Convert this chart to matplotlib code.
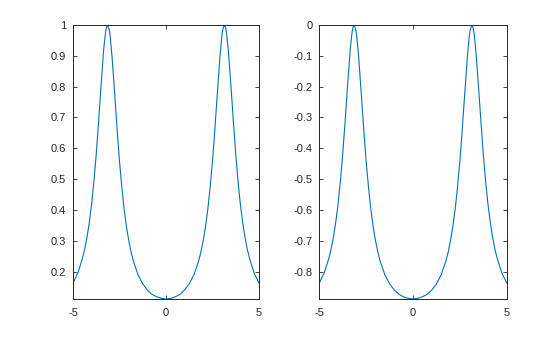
import matplotlib

matplotlib.use("Agg")
import matplotlib.pyplot as plt  # noqa: E402
from matplotlib.ticker import FuncFormatter  # noqa: E402

plt.rcParams["font.family"] = ["Liberation Sans", "DejaVu Sans"]
plt.rcParams["axes.unicode_minus"] = False

LINE = "#0072BD"

# sample positions (denser near the peaks)
x_vals = [
    -5.0, -4.75, -4.5, -4.375, -4.25, -4.125, -4.0, -3.875, -3.75, -3.625,
    -3.5, -3.35, -3.25, -3.2, -3.14, -3.05, -3.0, -2.9, -2.75, -2.625,
    -2.5, -2.375, -2.25, -2.125, -2.0, -1.875, -1.75, -1.5, -1.25, -1.0,
    -0.75, -0.5, -0.25, 0.0, 0.25, 0.5, 0.75, 1.0, 1.25, 1.5,
    1.75, 1.875, 2.0, 2.125, 2.25, 2.375, 2.5, 2.625, 2.75, 2.9,
    3.0, 3.05, 3.14, 3.2, 3.25, 3.35, 3.5, 3.625, 3.75, 3.875,
    4.0, 4.125, 4.25, 4.375, 4.5, 4.75, 5.0,
]

# left panel
y_left = [
    0.163, 0.194, 0.241, 0.272, 0.311, 0.359, 0.419, 0.493, 0.582, 0.686,
    0.797, 0.921, 0.977, 0.993, 1.000, 0.984, 0.962, 0.896, 0.768, 0.658,
    0.557, 0.474, 0.402, 0.345, 0.300, 0.263, 0.233, 0.189, 0.160, 0.140,
    0.126, 0.118, 0.113, 0.111, 0.113, 0.118, 0.126, 0.140, 0.160, 0.189,
    0.233, 0.263, 0.300, 0.345, 0.402, 0.474, 0.557, 0.658, 0.768, 0.896,
    0.962, 0.984, 1.000, 0.993, 0.977, 0.921, 0.797, 0.686, 0.582, 0.493,
    0.419, 0.359, 0.311, 0.272, 0.241, 0.194, 0.163,
]

# right panel
y_right = [
    -0.837, -0.806, -0.759, -0.728, -0.689, -0.641, -0.581, -0.507, -0.418, -0.314,
    -0.203, -0.079, -0.023, -0.007, 0.000, -0.016, -0.038, -0.104, -0.232, -0.342,
    -0.443, -0.526, -0.598, -0.655, -0.700, -0.737, -0.767, -0.811, -0.840, -0.860,
    -0.874, -0.882, -0.887, -0.889, -0.887, -0.882, -0.874, -0.860, -0.840, -0.811,
    -0.767, -0.737, -0.700, -0.655, -0.598, -0.526, -0.443, -0.342, -0.232, -0.104,
    -0.038, -0.016, 0.000, -0.007, -0.023, -0.079, -0.203, -0.314, -0.418, -0.507,
    -0.581, -0.641, -0.689, -0.728, -0.759, -0.806, -0.837,
]

x_ticks = [-5, 0, 5]
y_ticks_left = [0.2, 0.3, 0.4, 0.5, 0.6, 0.7, 0.8, 0.9, 1.0]
y_ticks_right = [-0.8, -0.7, -0.6, -0.5, -0.4, -0.3, -0.2, -0.1, 0.0]


def _style(ax, yticks, ylim):
    ax.set_xlim(-5, 5)
    ax.set_ylim(*ylim)
    ax.set_xticks(x_ticks)
    ax.set_yticks(yticks)
    fmt = FuncFormatter(lambda v, _: f"{v:g}" if abs(v) > 1e-9 else "0")
    ax.xaxis.set_major_formatter(fmt)
    ax.yaxis.set_major_formatter(fmt)
    ax.tick_params(direction="in", top=True, right=True, length=3, width=0.6,
                   labelsize=8, color="#262626", labelcolor="#262626")
    ax.tick_params(axis="x", pad=6.2)
    ax.tick_params(axis="y", pad=4.9)
    for s in ax.spines.values():
        s.set_linewidth(0.7)
        s.set_color("#262626")


fig = plt.figure(figsize=(5.6, 3.37), dpi=100)
ax1 = fig.add_axes([0.1304, 0.1128, 0.332, 0.813])
ax2 = fig.add_axes([0.5702, 0.1128, 0.3346, 0.813])

ax1.plot(x_vals, y_left, color=LINE, lw=0.8)
ax2.plot(x_vals, y_right, color=LINE, lw=0.8)

_style(ax1, y_ticks_left, (0.111, 1.0))
_style(ax2, y_ticks_right, (-0.889, 0.0))

fig.savefig("out.png", dpi=100, facecolor="white")
